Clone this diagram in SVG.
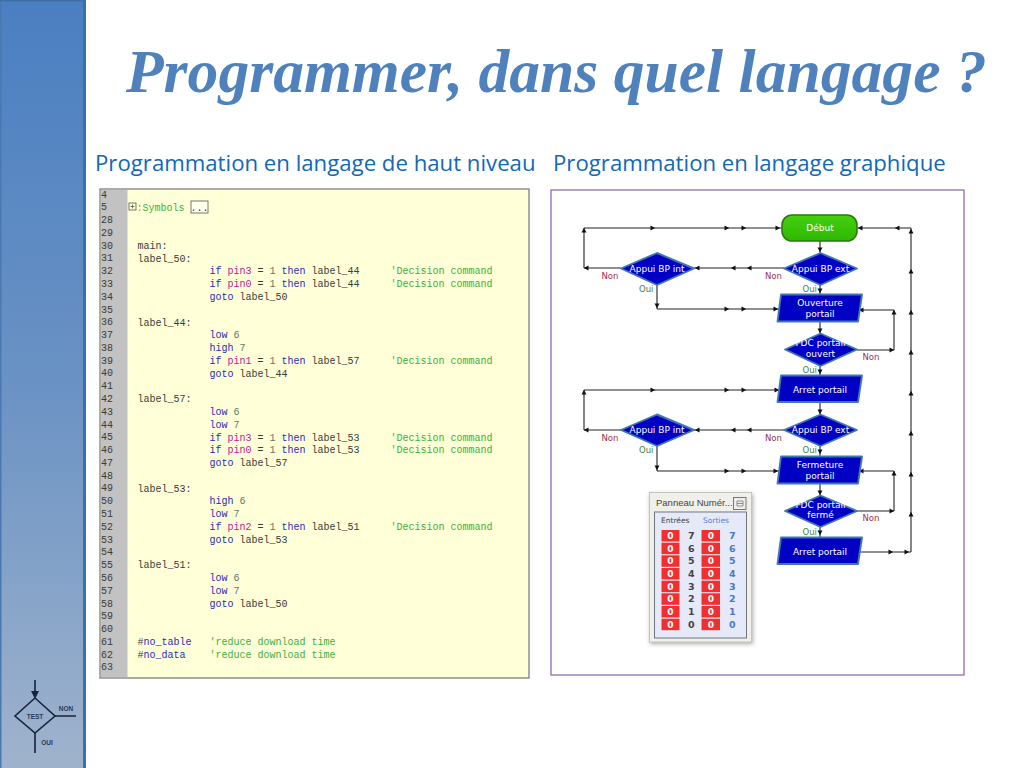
<svg xmlns="http://www.w3.org/2000/svg" width="1024" height="768" viewBox="0 0 1024 768">
<style>
.t{font-family:"Liberation Serif",serif;font-weight:bold;font-style:italic;font-size:61.6px;fill:#4f81bd}
.h{font-family:"Open Sans","Noto Sans",sans-serif;font-size:22.2px;fill:#1268b8}
.m{font-family:"Liberation Mono",monospace;font-size:10px;fill:#3a3a3a}
.k{fill:#2a2ab8}.p{fill:#c0209a}.g{fill:#3cb03c}.v{fill:#5a7a6a}
.c{fill:none;stroke:#222;stroke-width:1.1;marker-mid:url(#a)}
.b{fill:#0000c4;stroke:#3f78b0;stroke-width:1.9;stroke-linejoin:round}
.w{font-family:"DejaVu Sans",sans-serif;font-size:9px;fill:#fff;text-anchor:middle}
.no{font-family:"DejaVu Sans",sans-serif;font-size:8.5px;fill:#a03055}
.ou{font-family:"DejaVu Sans",sans-serif;font-size:8.5px;fill:#3f7f3f}
.r{fill:#f03030}
.z{font-family:"DejaVu Sans",sans-serif;font-size:9px;font-weight:bold;fill:#fff;text-anchor:middle}
.d{font-family:"DejaVu Sans",sans-serif;font-size:9.5px;font-weight:bold;fill:#444;text-anchor:middle}
.s{font-family:"DejaVu Sans",sans-serif;font-size:9.5px;font-weight:bold;fill:#4a78c8;text-anchor:middle}
.l{font-family:"Liberation Sans",sans-serif;font-weight:bold;font-size:6.5px;fill:#2a3a55;text-anchor:middle}
</style>
<defs>
<linearGradient id="side" x1="0" y1="0" x2="0" y2="1"><stop offset="0" stop-color="#4a7fc1"/><stop offset="0.5" stop-color="#6a92c4"/><stop offset="1" stop-color="#9fb3cc"/></linearGradient>
<linearGradient id="green" x1="0" y1="0" x2="0" y2="1"><stop offset="0" stop-color="#44d010"/><stop offset="1" stop-color="#2eb800"/></linearGradient>
<filter id="sh" x="-10%" y="-10%" width="120%" height="120%"><feGaussianBlur stdDeviation="2"/></filter>
<marker id="a" markerUnits="userSpaceOnUse" markerWidth="8" markerHeight="8" refX="4" refY="4" orient="auto"><path d="M1.5 1.5 L6.2 4 L1.5 6.5 Z" fill="#111"/></marker>
</defs>
<rect width="1024" height="768" fill="#fff"/>
<g id="sidebar">
<rect x="0" y="0" width="86" height="768" fill="url(#side)"/>
<rect x="83" y="0" width="3" height="768" fill="#3f6fa8"/>
<rect x="0" y="0" width="1.5" height="768" fill="#4a78b0"/>
<rect x="0" y="0" width="86" height="1.5" fill="#3f6fa8"/>
<g id="logo" fill="none" stroke="#16243a" stroke-width="1.6">
<path d="M35 698 L55 716 L35 733 L15 716 Z"/><path d="M35 680 V692 M55 716 H76 M35 733 V753"/>
<path d="M31 691 H39 L35 699 Z" fill="#16243a" stroke="none"/>
<text class="l" x="35" y="719" stroke="none">TEST</text><text class="l" x="66" y="711" stroke="none">NON</text><text class="l" x="47" y="745" stroke="none">OUI</text>
</g>
</g>
<text class="t" x="126" y="92">Programmer, dans quel langage ?</text>
<text class="h" x="95" y="171">Programmation en langage de haut niveau</text>
<text class="h" x="553" y="171">Programmation en langage graphique</text>
<g id="code">
<rect x="100" y="189" width="429" height="489" fill="#ffffd8" stroke="#808080" stroke-width="1.3"/>
<rect x="101" y="190" width="26.500" height="487" fill="#c2c2c2"/>
<g class="m" transform="translate(0 0.5)">
<text x="101" y="197">4</text><text x="101" y="209.800">5</text><text x="101" y="222.600">28</text><text x="101" y="235.300">29</text><text x="101" y="248.100">30</text><text x="101" y="260.900">31</text><text x="101" y="273.700">32</text><text x="101" y="286.500">33</text><text x="101" y="299.200">34</text><text x="101" y="312">35</text><text x="101" y="324.800">36</text><text x="101" y="337.600">37</text><text x="101" y="350.400">38</text><text x="101" y="363.100">39</text><text x="101" y="375.900">40</text><text x="101" y="388.700">41</text><text x="101" y="401.500">42</text><text x="101" y="414.300">43</text><text x="101" y="427">44</text><text x="101" y="439.800">45</text><text x="101" y="452.600">46</text><text x="101" y="465.400">47</text><text x="101" y="478.200">48</text><text x="101" y="490.900">49</text><text x="101" y="503.700">50</text><text x="101" y="516.500">51</text><text x="101" y="529.300">52</text><text x="101" y="542.100">53</text><text x="101" y="554.800">54</text><text x="101" y="567.600">55</text><text x="101" y="580.400">56</text><text x="101" y="593.200">57</text><text x="101" y="606">58</text><text x="101" y="618.700">59</text><text x="101" y="631.500">60</text><text x="101" y="644.300">61</text><text x="101" y="657.100">62</text><text x="101" y="669.900">63</text>
</g>
<g fill="none" stroke="#555" stroke-width="0.8"><rect x="129" y="203" width="7" height="7"/><path d="M130.500 206.500 H134.500 M132.500 204.500 V208.500"/><rect x="191" y="201" width="17" height="12" fill="#fffff0"/></g>
<g class="m" transform="translate(-0.5 0.8)">
<text class="g" x="137" y="209.800">:Symbols</text><text x="191" y="209.800">...</text>
<text x="138" y="248.100">main:</text>
<text x="138" y="260.900">label_50:</text>
<text x="210" y="273.700"><tspan class="k">if</tspan> <tspan class="p">pin3</tspan> = <tspan class="v">1</tspan> <tspan class="k">then</tspan> label_44</text><text class="g" x="391" y="273.700">'Decision command</text>
<text x="210" y="286.500"><tspan class="k">if</tspan> <tspan class="p">pin0</tspan> = <tspan class="v">1</tspan> <tspan class="k">then</tspan> label_44</text><text class="g" x="391" y="286.500">'Decision command</text>
<text x="210" y="299.200"><tspan class="k">goto</tspan> label_50</text>
<text x="138" y="324.800">label_44:</text>
<text x="210" y="337.600"><tspan class="k">low</tspan> <tspan class="v">6</tspan></text>
<text x="210" y="350.400"><tspan class="k">high</tspan> <tspan class="v">7</tspan></text>
<text x="210" y="363.100"><tspan class="k">if</tspan> <tspan class="p">pin1</tspan> = <tspan class="v">1</tspan> <tspan class="k">then</tspan> label_57</text><text class="g" x="391" y="363.100">'Decision command</text>
<text x="210" y="375.900"><tspan class="k">goto</tspan> label_44</text>
<text x="138" y="401.500">label_57:</text>
<text x="210" y="414.300"><tspan class="k">low</tspan> <tspan class="v">6</tspan></text>
<text x="210" y="427"><tspan class="k">low</tspan> <tspan class="v">7</tspan></text>
<text x="210" y="439.800"><tspan class="k">if</tspan> <tspan class="p">pin3</tspan> = <tspan class="v">1</tspan> <tspan class="k">then</tspan> label_53</text><text class="g" x="391" y="439.800">'Decision command</text>
<text x="210" y="452.600"><tspan class="k">if</tspan> <tspan class="p">pin0</tspan> = <tspan class="v">1</tspan> <tspan class="k">then</tspan> label_53</text><text class="g" x="391" y="452.600">'Decision command</text>
<text x="210" y="465.400"><tspan class="k">goto</tspan> label_57</text>
<text x="138" y="490.900">label_53:</text>
<text x="210" y="503.700"><tspan class="k">high</tspan> <tspan class="v">6</tspan></text>
<text x="210" y="516.500"><tspan class="k">low</tspan> <tspan class="v">7</tspan></text>
<text x="210" y="529.300"><tspan class="k">if</tspan> <tspan class="p">pin2</tspan> = <tspan class="v">1</tspan> <tspan class="k">then</tspan> label_51</text><text class="g" x="391" y="529.300">'Decision command</text>
<text x="210" y="542.100"><tspan class="k">goto</tspan> label_53</text>
<text x="138" y="567.600">label_51:</text>
<text x="210" y="580.400"><tspan class="k">low</tspan> <tspan class="v">6</tspan></text>
<text x="210" y="593.200"><tspan class="k">low</tspan> <tspan class="v">7</tspan></text>
<text x="210" y="606"><tspan class="k">goto</tspan> label_50</text>
<text x="138" y="644.300">#<tspan class="k">no_table</tspan></text><text class="g" x="210" y="644.300">'reduce download time</text>
<text x="138" y="657.100">#<tspan class="k">no_data</tspan></text><text class="g" x="210" y="657.100">'reduce download time</text>
</g>
</g>
<rect id="frame" x="551" y="190" width="413" height="485" fill="#fff" stroke="#8860a8" stroke-width="1.2"/>
<g id="connectors">
<path class="c" d="M911 228 L897 228 L860 228 L858 228"/>
<path class="c" d="M820 241 L820 250 L820 253"/>
<path class="c" d="M784 268 L749 268 L733 268 L697 268 L694 268"/>
<path class="c" d="M621 268 L586 268 L584 268"/>
<path class="c" d="M584 268 L584 230 L584 228"/>
<path class="c" d="M584 228 L653 228 L727 228 L744 228 L778 228 L782 228"/>
<path class="c" d="M820 285 L820 291 L820 294"/>
<path class="c" d="M657 285 L657 306 L657 309"/>
<path class="c" d="M657 309 L727 309 L744 309 L776 309 L779 309"/>
<path class="c" d="M820 322 L820 331 L820 333"/>
<path class="c" d="M857 350 L892 350 L894 350"/>
<path class="c" d="M894 350 L894 312 L894 310"/>
<path class="c" d="M894 310 L861 310 L859 310"/>
<path class="c" d="M820 366 L820 372 L820 375"/>
<path class="c" d="M584 430 L584 392 L584 390"/>
<path class="c" d="M584 390 L653 390 L727 390 L744 390 L777 390 L779 390"/>
<path class="c" d="M820 402 L820 412 L820 414"/>
<path class="c" d="M784 430 L749 430 L733 430 L697 430 L694 430"/>
<path class="c" d="M621 430 L586 430 L584 430"/>
<path class="c" d="M820 446 L820 452 L820 456"/>
<path class="c" d="M657 446 L657 468 L657 471"/>
<path class="c" d="M657 471 L727 471 L744 471 L776 471 L779 471"/>
<path class="c" d="M820 484 L820 493 L820 495"/>
<path class="c" d="M857 511 L892 511 L894 511"/>
<path class="c" d="M894 511 L894 473 L894 471"/>
<path class="c" d="M894 471 L861 471 L859 471"/>
<path class="c" d="M820 527 L820 533 L820 537"/>
<path class="c" d="M860 552 L891 552 L907 552 L911 552"/>
<path class="c" d="M911 552 L911 514 L911 474 L911 433 L911 393 L911 352 L911 312 L911 271 L911 231 L911 228"/>
</g>
<g id="debut"><rect x="782" y="215" width="75" height="26" rx="10" fill="url(#green)" stroke="#2a7a10" stroke-width="1.600"/><text class="w" x="820" y="231">Début</text></g>
<g id="bp-int-1"><path class="b" d="M621 268.500 L657 253 L694 268.500 L657 285 Z"/><text class="w" x="657" y="271.500">Appui BP int</text></g>
<g id="bp-ext-1"><path class="b" d="M784 268.500 L820.500 253 L857 268.500 L820.500 285 Z"/><text class="w" x="820.500" y="271.500">Appui BP ext</text></g>
<g id="ouverture"><path class="b" d="M781 294.500 H862 L858 321.500 H777.500 Z"/><text class="w" x="820" y="306">Ouverture</text><text class="w" x="820" y="316.700">portail</text></g>
<g id="fdc-ouvert"><path class="b" d="M785 349.500 L820.500 333.500 L857 349.500 L820.500 366 Z"/><text class="w" x="820.500" y="346.300">FDC portail</text><text class="w" x="820.500" y="356.700">ouvert</text></g>
<g id="arret-1"><path class="b" d="M781 375.500 H862 L858 402 H777.500 Z"/><text class="w" x="820" y="393">Arret portail</text></g>
<g id="bp-int-2"><path class="b" d="M621 430 L657 414.500 L694 430 L657 446 Z"/><text class="w" x="657" y="433">Appui BP int</text></g>
<g id="bp-ext-2"><path class="b" d="M784 430 L820.500 414.500 L857 430 L820.500 446 Z"/><text class="w" x="820.500" y="433">Appui BP ext</text></g>
<g id="fermeture"><path class="b" d="M781 456.500 H862 L858 483.500 H777.500 Z"/><text class="w" x="820" y="468">Fermeture</text><text class="w" x="820" y="478.700">portail</text></g>
<g id="fdc-ferme"><path class="b" d="M785 511 L820.500 495.500 L857 511 L820.500 527 Z"/><text class="w" x="820.500" y="508">FDC portail</text><text class="w" x="820.500" y="518">fermé</text></g>
<g id="arret-2"><path class="b" d="M781 537.500 H862 L858 564 H777.500 Z"/><text class="w" x="820" y="555">Arret portail</text></g>
<g id="labels">
<text class="no" x="601.500" y="278.500">Non</text><text class="ou" x="639" y="291.700">Oui</text>
<text class="no" x="765" y="278.500">Non</text><text class="ou" x="802.500" y="291.700">Oui</text>
<text class="no" x="862.500" y="359.500">Non</text><text class="ou" x="802.500" y="372.700">Oui</text>
<text class="no" x="601.500" y="440.500">Non</text><text class="ou" x="639" y="453">Oui</text>
<text class="no" x="765" y="440.500">Non</text><text class="ou" x="802.500" y="453">Oui</text>
<text class="no" x="862.500" y="521">Non</text><text class="ou" x="802.500" y="534.500">Oui</text>
</g>
<g id="panneau">
<rect x="650" y="494" width="103" height="150" fill="#aaa" filter="url(#sh)"/>
<rect x="649.500" y="492.500" width="102" height="149.500" fill="#f0efe9" stroke="#c4c4c4"/>
<text x="656" y="506" font-family="'Liberation Sans',sans-serif" font-size="9.500" fill="#444">Panneau Numér...</text>
<rect x="733.500" y="497.500" width="12.500" height="12" fill="#eee" stroke="#777"/><path d="M737 501 H743 V506 H737 Z M737 503.500 H743" fill="none" stroke="#777" stroke-width="0.8"/>
<rect x="654.500" y="512" width="92" height="126" fill="#e6eaf8" stroke="#6e7680"/>
<text x="661" y="523" font-family="'DejaVu Sans',sans-serif" font-size="7.500" fill="#444">Entrées</text>
<text x="703" y="523" font-family="'DejaVu Sans',sans-serif" font-size="7.500" fill="#5a80c8">Sorties</text>
<g id="cells">
<rect class="r" x="661.500" y="530" width="18" height="11.500"/><rect class="r" x="701.500" y="530" width="18.500" height="11.500"/><text class="z" x="670.500" y="539">0</text><text class="z" x="710.800" y="539">0</text><text class="d" x="691.300" y="539">7</text><text class="s" x="732.300" y="539">7</text>
<rect class="r" x="661.500" y="542.700" width="18" height="11.500"/><rect class="r" x="701.500" y="542.700" width="18.500" height="11.500"/><text class="z" x="670.500" y="551.700">0</text><text class="z" x="710.800" y="551.700">0</text><text class="d" x="691.300" y="551.700">6</text><text class="s" x="732.300" y="551.700">6</text>
<rect class="r" x="661.500" y="555.300" width="18" height="11.500"/><rect class="r" x="701.500" y="555.300" width="18.500" height="11.500"/><text class="z" x="670.500" y="564.300">0</text><text class="z" x="710.800" y="564.300">0</text><text class="d" x="691.300" y="564.300">5</text><text class="s" x="732.300" y="564.300">5</text>
<rect class="r" x="661.500" y="568" width="18" height="11.500"/><rect class="r" x="701.500" y="568" width="18.500" height="11.500"/><text class="z" x="670.500" y="577">0</text><text class="z" x="710.800" y="577">0</text><text class="d" x="691.300" y="577">4</text><text class="s" x="732.300" y="577">4</text>
<rect class="r" x="661.500" y="580.700" width="18" height="11.500"/><rect class="r" x="701.500" y="580.700" width="18.500" height="11.500"/><text class="z" x="670.500" y="589.700">0</text><text class="z" x="710.800" y="589.700">0</text><text class="d" x="691.300" y="589.700">3</text><text class="s" x="732.300" y="589.700">3</text>
<rect class="r" x="661.500" y="593.300" width="18" height="11.500"/><rect class="r" x="701.500" y="593.300" width="18.500" height="11.500"/><text class="z" x="670.500" y="602.300">0</text><text class="z" x="710.800" y="602.300">0</text><text class="d" x="691.300" y="602.300">2</text><text class="s" x="732.300" y="602.300">2</text>
<rect class="r" x="661.500" y="606" width="18" height="11.500"/><rect class="r" x="701.500" y="606" width="18.500" height="11.500"/><text class="z" x="670.500" y="615">0</text><text class="z" x="710.800" y="615">0</text><text class="d" x="691.300" y="615">1</text><text class="s" x="732.300" y="615">1</text>
<rect class="r" x="661.500" y="618.700" width="18" height="11.500"/><rect class="r" x="701.500" y="618.700" width="18.500" height="11.500"/><text class="z" x="670.500" y="627.700">0</text><text class="z" x="710.800" y="627.700">0</text><text class="d" x="691.300" y="627.700">0</text><text class="s" x="732.300" y="627.700">0</text>
</g>
</g>
</svg>
